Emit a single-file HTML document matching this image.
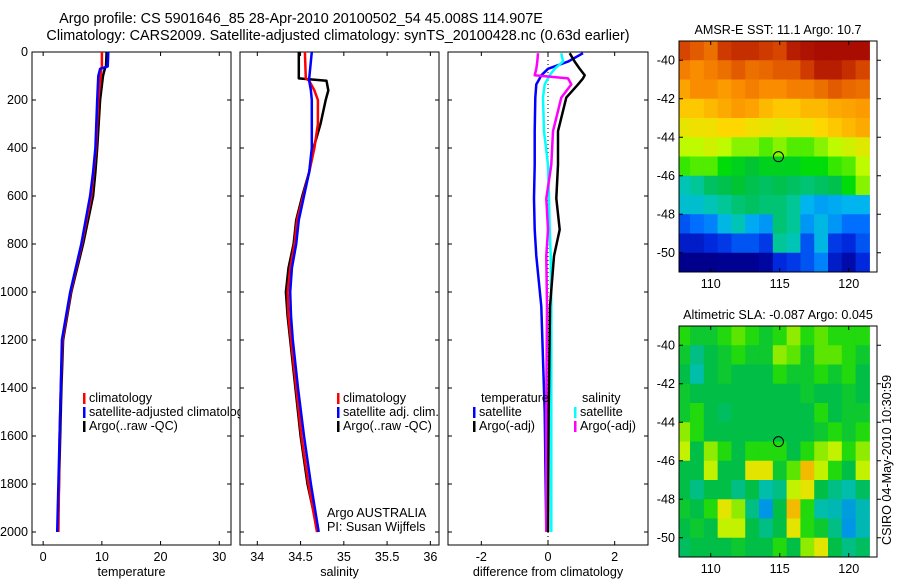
<!DOCTYPE html>
<html><head><meta charset="utf-8"><style>
body{margin:0;background:#fff}
svg{display:block;font-family:"Liberation Sans",sans-serif;font-size:12.6px}
</style></head><body>
<svg id="fig" width="900" height="580" viewBox="0 0 900 580">
<text x="301" y="23" text-anchor="middle" font-size="14.4">Argo profile: CS 5901646_85 28-Apr-2010 20100502_54 45.008S 114.907E</text>
<text x="338" y="40" text-anchor="middle" font-size="14.4">Climatology: CARS2009. Satellite-adjusted climatology: synTS_20100428.nc (0.63d earlier)</text>
<g id="plots"></g>
<text x="327" y="517">Argo AUSTRALIA</text>
<text x="327" y="531">PI: Susan Wijffels</text>
<text transform="translate(891,545) rotate(-90)">CSIRO 04-May-2010 10:30:59</text>
</svg>
<script>
// depth levels (m)
const depthT = [0,60,70,100,200,400,500,600,800,1000,1200,1400,1600,1800,2000];
const tempArgo = [10.8,10.7,10.5,10.2,9.7,9.2,8.9,8.5,6.8,4.8,3.4,3.1,2.9,2.7,2.5];
const tempClim = [10.0,10.0,9.9,9.8,9.4,9.0,8.6,8.2,6.6,4.7,3.3,3.0,2.8,2.7,2.6];
const tempSat  = [11.1,11.0,9.7,9.4,9.2,8.9,8.5,8.0,6.5,4.6,3.2,3.0,2.8,2.6,2.4];
const depthS = [0,110,120,160,200,300,400,500,600,700,800,900,1000,1100,1200,1400,1600,1800,2000];
const salArgo = [34.48,34.48,34.8,34.82,34.79,34.73,34.65,34.6,34.52,34.45,34.42,34.36,34.33,34.35,34.38,34.44,34.5,34.58,34.7];
const salClim = [34.55,34.56,34.6,34.66,34.7,34.7,34.66,34.6,34.53,34.46,34.43,34.38,34.35,34.36,34.39,34.45,34.51,34.59,34.69];
const salSat  = [34.63,34.6,34.6,34.62,34.63,34.63,34.63,34.6,34.54,34.48,34.45,34.4,34.38,34.39,34.41,34.47,34.54,34.62,34.71];
const depthD = [5,40,70,97,110,135,190,330,470,610,740,850,1060,1500,2000];
const dTempArgo = [0.65,0.8,0.95,1.1,1.05,0.9,0.55,0.3,0.3,0.25,0.35,0.18,0.06,0.02,0.0];
const dTempSat  = [1.05,0.6,0.0,-0.2,-0.25,-0.35,-0.38,-0.4,-0.4,-0.42,-0.4,-0.35,-0.2,-0.1,-0.05];
const dSalSat   = [0.4,0.45,0.2,0.05,0.0,-0.1,-0.15,-0.12,0.0,0.03,0.05,0.08,0.1,0.1,0.1];
const dSalArgo  = [-0.3,-0.32,-0.35,-0.4,0.6,0.7,0.4,0.15,0.1,-0.05,0.0,-0.05,-0.03,-0.05,-0.05];
const tempTicks = [0,10,20,30];
const salTicks = [34,34.5,35,35.5,36];
const diffTicks = [-2,0,2];
const depthTicks = [0,200,400,600,800,1000,1200,1400,1600,1800,2000];
const lonTicks = [110,115,120];
const latTicks = [-40,-42,-44,-46,-48,-50];
// SST map grid (normalised colour index), rows lat -39.5..-50.5, cols lon 108..121
const sstGrid = [
[0.88,0.85,0.82,0.9,0.92,0.92,0.9,0.88,0.95,0.97,0.98,0.98,0.98,0.98],
[0.8,0.78,0.8,0.82,0.85,0.82,0.83,0.85,0.85,0.9,0.95,0.95,0.92,0.88],
[0.75,0.78,0.78,0.76,0.78,0.8,0.78,0.78,0.8,0.8,0.82,0.85,0.83,0.82],
[0.7,0.7,0.72,0.74,0.76,0.75,0.72,0.7,0.7,0.72,0.72,0.74,0.75,0.76],
[0.65,0.66,0.66,0.68,0.68,0.66,0.65,0.64,0.65,0.66,0.68,0.7,0.72,0.74],
[0.6,0.6,0.62,0.6,0.58,0.58,0.56,0.58,0.56,0.56,0.58,0.6,0.62,0.64],
[0.55,0.56,0.56,0.52,0.5,0.48,0.5,0.5,0.5,0.52,0.52,0.55,0.56,0.6],
[0.4,0.42,0.45,0.46,0.48,0.46,0.45,0.46,0.45,0.44,0.45,0.46,0.52,0.58],
[0.38,0.38,0.4,0.42,0.44,0.45,0.44,0.44,0.42,0.35,0.33,0.34,0.35,0.35],
[0.25,0.28,0.3,0.36,0.4,0.34,0.32,0.44,0.42,0.32,0.36,0.32,0.28,0.28],
[0.18,0.18,0.2,0.22,0.25,0.25,0.22,0.42,0.4,0.25,0.36,0.22,0.2,0.25],
[0.1,0.1,0.1,0.12,0.12,0.12,0.14,0.2,0.22,0.25,0.3,0.18,0.15,0.2]];
const slaGrid = [
[.55,.52,.52,.55,.58,.55,.52,.55,.6,.55,.58,.55,.55,.55],
[.52,.45,.5,.52,.55,.52,.52,.6,.58,.52,.58,.58,.55,.52],
[.5,.42,.5,.52,.5,.5,.5,.55,.52,.52,.55,.52,.55,.5],
[.52,.5,.5,.5,.5,.5,.5,.5,.5,.52,.5,.5,.52,.5],
[.52,.55,.5,.48,.5,.5,.5,.5,.5,.5,.55,.5,.52,.52],
[.6,.55,.5,.5,.5,.5,.5,.5,.5,.5,.52,.55,.52,.55],
[.62,.5,.6,.55,.5,.55,.55,.55,.5,.55,.6,.62,.55,.6],
[.5,.5,.62,.5,.5,.65,.65,.52,.58,.7,.62,.55,.5,.62],
[.5,.45,.5,.5,.45,.5,.42,.45,.62,.65,.5,.45,.42,.48],
[.52,.5,.55,.65,.6,.45,.3,.5,.7,.55,.42,.4,.32,.4],
[.5,.52,.5,.62,.62,.5,.45,.5,.65,.55,.52,.45,.3,.4],
[.48,.5,.5,.5,.52,.5,.5,.55,.5,.6,.65,.5,.45,.48]];

const NS='http://www.w3.org/2000/svg';
const root=document.getElementById('plots');
function mk(tag,attrs,parent){const e=document.createElementNS(NS,tag);for(const k in attrs)e.setAttribute(k,attrs[k]);(parent||root).appendChild(e);return e;}
function txt(x,y,s,anchor,parent){const t=mk('text',{x:x,y:y,'text-anchor':anchor||'start'},parent);t.textContent=s;return t;}
const yD=d=>52+d*0.24;
function panel(name,x0,x1,xmin,xmax,ticks,label,leftLabels){
  const g=mk('g',{});
  
  
  const sx=v=>x0+(v-xmin)/(xmax-xmin)*(x1-x0);
  mk('rect',{x:x0,y:52,width:x1-x0,height:493,fill:'#fff',stroke:'#000','stroke-width':1},g);
  depthTicks.forEach(d=>{const y=yD(d);mk('line',{x1:x0,x2:x0+4,y1:y,y2:y,stroke:'#000'},g);mk('line',{x1:x1-4,x2:x1,y1:y,y2:y,stroke:'#000'},g);
    if(leftLabels){const t=txt(x0-4,y+4,String(d),'end',g);}});
  ticks.forEach(v=>{const x=sx(v);mk('line',{x1:x,x2:x,y1:545,y2:541,stroke:'#000'},g);mk('line',{x1:x,x2:x,y1:52,y2:56,stroke:'#000'},g);
    const t=txt(x,561,String(v),'middle',g);});
  const l=txt((x0+x1)/2,576,label,'middle',g);
  
  
  return {g,sx};
}
function line(p,depths,vals,color,name,w){
  const pts=depths.map((d,i)=>p.sx(vals[i]).toFixed(1)+','+yD(d).toFixed(1)).join(' ');
  const e=mk('polyline',{points:pts,fill:'none',stroke:color,'stroke-width':w||2.5,'stroke-linejoin':'round'},p.g);
  
  
}
function legend(p,x,y,color,label,name){
  mk('rect',{x:x,y:y-9,width:2.5,height:11,fill:color},p.g);
  const t=txt(x+6,y,label,'start',p.g);
  
  
}
const p1=panel('temperature-panel',32,231,-1.9,32,tempTicks,'temperature',true);
line(p1,depthT,tempArgo,'#000','temp-argo-line');
line(p1,depthT,tempClim,'#f00','temp-clim-line');
line(p1,depthT,tempSat,'#00f','temp-sat-line');
legend(p1,83,402,'#f00','climatology','legend-climatology');
legend(p1,83,416,'#00f','satellite-adjusted climatology','legend-satellite');
legend(p1,83,430,'#000','Argo(..raw -QC)','legend-argo');
const p2=panel('salinity-panel',240,439,33.8,36.1,salTicks,'salinity',false);
line(p2,depthS,salArgo,'#000','sal-argo-line');
line(p2,depthS,salClim,'#f00','sal-clim-line');
line(p2,depthS,salSat,'#00f','sal-sat-line');
legend(p2,337,402,'#f00','climatology','legend-climatology');
legend(p2,337,416,'#00f','satellite adj. clim.','legend-satellite');
legend(p2,337,430,'#000','Argo(..raw -QC)','legend-argo');
const p3=panel('difference-panel',448,648,-3,3,diffTicks,'difference from climatology',false);
mk('line',{x1:p3.sx(0),x2:p3.sx(0),y1:52,y2:545,stroke:'#000','stroke-dasharray':'1,3'},p3.g);
line(p3,depthD,dTempSat,'#00f','diff-temp-sat-line');
line(p3,depthD,dSalSat,'#0ff','diff-sal-sat-line');
line(p3,depthD,dSalArgo,'#f0f','diff-sal-argo-line');
line(p3,depthD,dTempArgo,'#000','diff-temp-argo-line');
txt(481,402,'temperature','start',p3.g);
legend(p3,473,416,'#00f','satellite','legend-temp-satellite');
legend(p3,473,430,'#000','Argo(-adj)','legend-temp-argo');
txt(582,402,'salinity','start',p3.g);
legend(p3,574,416,'#0ff','satellite','legend-sal-satellite');
legend(p3,574,430,'#f0f','Argo(-adj)','legend-sal-argo');

function cmap(stops,v){
  v=Math.max(0,Math.min(1,v));
  for(let i=1;i<stops.length;i++){if(v<=stops[i][0]){const a=stops[i-1],b=stops[i],f=(v-a[0])/(b[0]-a[0]);return 'rgb('+a[1].map((c,j)=>Math.round(c+(b[1][j]-c)*f)).join(',')+')';}}
  const l=stops[stops.length-1][1];return 'rgb('+l.join(',')+')';
}
const sstStops=[[0,[0,0,110]],[0.13,[0,0,150]],[0.2,[0,40,220]],[0.28,[0,110,255]],[0.35,[0,180,240]],[0.41,[0,200,170]],[0.47,[0,190,60]],[0.53,[0,225,0]],[0.6,[190,250,0]],[0.68,[255,215,0]],[0.78,[250,140,0]],[0.88,[215,70,0]],[1,[160,0,0]]];
const slaStops=[[0,[0,60,230]],[0.3,[0,150,230]],[0.42,[0,190,170]],[0.5,[0,190,70]],[0.56,[40,222,0]],[0.63,[220,245,0]],[0.72,[250,170,0]],[1,[230,60,0]]];
function map(name,top,grid,title,stops){
  const g=mk('g',{});
  
  
  const L=679,R=877,B=top+231;
  const sx=lon=>L+(lon-107.7)/(122.05-107.7)*(R-L);
  const sy=lat=>top+(-39.0-lat)/12*(B-top);
  grid.forEach((row,r)=>row.forEach((v,c)=>{
    const lon=108+c,lat=-39.5-r;
    const x0=Math.max(L,sx(lon-0.5)),x1=Math.min(R,sx(lon+0.5));
    const cell=mk('rect',{x:x0,y:sy(lat+0.5),width:x1-x0+0.5,height:sy(lat-0.5)-sy(lat+0.5)+0.5,fill:cmap(stops,v)},g);
    
    
  }));
  mk('rect',{x:L,y:top,width:R-L,height:B-top,fill:'none',stroke:'#000'},g);
  lonTicks.forEach(v=>{const x=sx(v);mk('line',{x1:x,x2:x,y1:B,y2:B-4,stroke:'#000'},g);mk('line',{x1:x,x2:x,y1:top,y2:top+4,stroke:'#000'},g);txt(x,B+16,String(v),'middle',g);});
  latTicks.forEach(v=>{const y=sy(v);mk('line',{x1:L,x2:L+4,y1:y,y2:y,stroke:'#000'},g);mk('line',{x1:R,x2:R+4,y1:y,y2:y,stroke:'#000'},g);txt(L-4,y+4,String(v),'end',g);});
  const c=mk('circle',{cx:sx(114.907),cy:sy(-45.008),r:5,fill:'none',stroke:'#000','stroke-width':1},g);
  
  
  const t=txt((L+R)/2,top-7,title,'middle',g);
  
  
}
map('sst-map',41,sstGrid,'AMSR-E SST: 11.1 Argo: 10.7',sstStops);
map('sla-map',326,slaGrid,'Altimetric SLA: -0.087 Argo: 0.045',slaStops);
</script>
</body></html>
